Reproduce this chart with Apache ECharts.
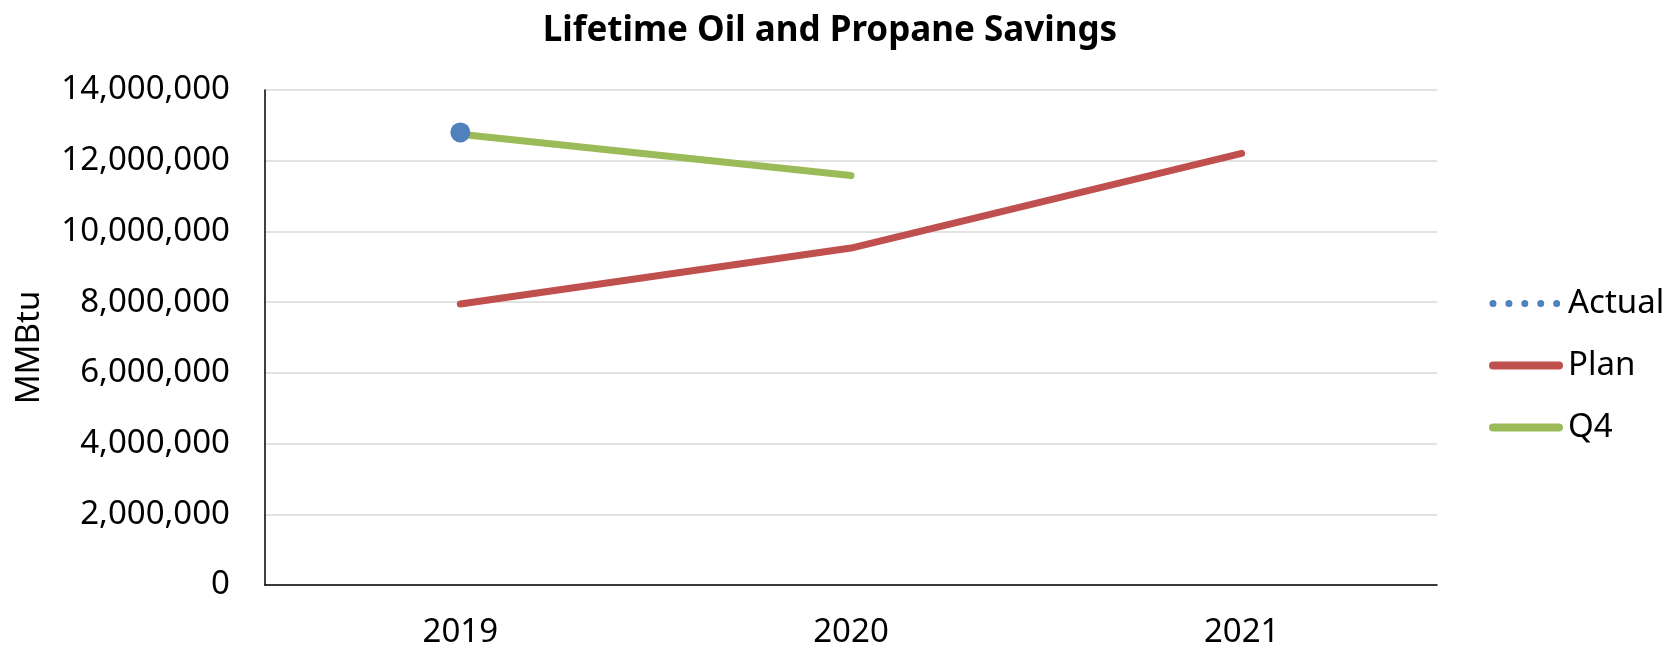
<!DOCTYPE html>
<html>
<head>
<meta charset="utf-8">
<script src="https://cdn.jsdelivr.net/npm/echarts@6/dist/echarts.min.js"></script>
<style>
html,body{margin:0;padding:0;background:#fff;}
#chart{width:1663px;height:649px;}
</style>
</head>
<body>
<div id="chart"></div>
<script>
const categories = ['2019', '2020', '2021'];
const actualValues = [12800000, null, null];
const planValues = [7950000, 9530000, 12210000];
const q4Values = [12750000, 11580000, null];
const yTicks = [0, 2000000, 4000000, 6000000, 8000000, 10000000, 12000000, 14000000];

const FONT = 'Noto Sans';
const chart = echarts.init(document.getElementById('chart'), null, {renderer: 'canvas'});
chart.setOption({
  backgroundColor: '#ffffff',
  animation: false,
  title: {
    text: 'Lifetime Oil and Propane Savings',
    left: 825, top: 9, textAlign: 'center',
    textStyle: {fontFamily: FONT, fontSize: 35, fontWeight: 'bold', color: '#000'}
  },
  legend: {
    orient: 'vertical',
    left: 1484, top: 282,
    itemWidth: 66, itemHeight: 14, itemGap: 29,
    textStyle: {fontFamily: FONT, fontSize: 33, color: '#000', lineHeight: 32, padding: [0, 0, 0, 4]},
    itemStyle: {opacity: 0},
    lineStyle: {width: 8, cap: 'round'},
    data: [
      {name: 'Actual', lineStyle: {type: [0.01, 15.9], width: 7, cap: 'round'}},
      {name: 'Plan'},
      {name: 'Q4'}
    ]
  },
  grid: {left: 265, right: 226, top: 90, bottom: 64, containLabel: false},
  xAxis: {
    type: 'category',
    data: categories,
    boundaryGap: true,
    axisLine: {lineStyle: {color: '#000', width: 1.5}},
    axisTick: {show: false},
    axisLabel: {fontFamily: FONT, fontSize: 33, color: '#000', margin: 31}
  },
  yAxis: {
    type: 'value',
    min: yTicks[0], max: yTicks[yTicks.length - 1], interval: 2000000,
    name: 'MMBtu',
    nameLocation: 'middle',
    nameGap: 219,
    nameTextStyle: {fontFamily: FONT, fontSize: 33, color: '#000', padding: [0, 20, 0, 0]},
    axisLine: {show: true, lineStyle: {color: '#000', width: 1.5}},
    axisTick: {show: false},
    splitLine: {lineStyle: {color: '#d9d9d9', width: 1.5}},
    axisLabel: {
      fontFamily: FONT, fontSize: 33, color: '#000', margin: 35,
      formatter: v => v.toLocaleString('en-US')
    }
  },
  series: [
    {
      name: 'Actual', type: 'line', data: actualValues, z: 5,
      symbol: 'circle', symbolSize: 20, showSymbol: true,
      itemStyle: {color: '#4f81bd'},
      lineStyle: {color: '#4f81bd', width: 7, type: 'dotted', cap: 'round'}
    },
    {
      name: 'Plan', type: 'line', data: planValues, z: 3,
      symbol: 'none', showSymbol: false,
      itemStyle: {color: '#c0504d'},
      lineStyle: {color: '#c0504d', width: 7, cap: 'round', join: 'round'}
    },
    {
      name: 'Q4', type: 'line', data: q4Values, z: 3,
      symbol: 'none', showSymbol: false,
      itemStyle: {color: '#9bbb59'},
      lineStyle: {color: '#9bbb59', width: 7, cap: 'round', join: 'round'}
    }
  ]
});
</script>
</body>
</html>
